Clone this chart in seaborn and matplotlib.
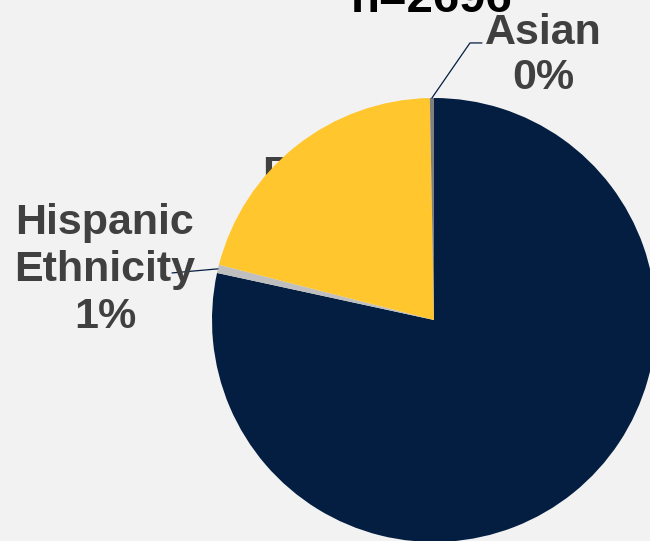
import numpy as np
import matplotlib
matplotlib.use("Agg")
import matplotlib.pyplot as plt
import seaborn as sns

# data
groups = ["White", "Hispanic Ethnicity", "Black", "Asian"]
shares = [78.4, 0.6, 20.7, 0.3]
colors = ["#031E41", "#BFBFBF", "#FFC62D", "#7F7F7F"]
sample_n = 2696

sns.set_style("white")
plt.rcParams["font.family"] = ["Liberation Sans", "DejaVu Sans"]

BG = "#F2F2F2"
LABEL = "#404040"

fig = plt.figure(figsize=(6.5, 5.41), dpi=100)
fig.patch.set_facecolor(BG)

# pie sits partly off the canvas: centre (434, 320) px, radius 222 px
W, H, cx, cy, r = 650, 541, 434, 320, 222
ax = fig.add_axes([(cx - r) / W, (H - cy - r) / H, 2 * r / W, 2 * r / H])
ax.set_facecolor(BG)

wedges, _ = ax.pie(shares, colors=colors, startangle=90, counterclock=False,
                   radius=1, wedgeprops={"linewidth": 0})
for w in wedges:
    w.set_zorder(3)
ax.set_xlim(-1, 1)
ax.set_ylim(-1, 1)
ax.set_aspect("equal")
ax.axis("off")


def edge_point(w):
    ang = np.deg2rad((w.theta1 + w.theta2) / 2)
    return np.cos(ang), np.sin(ang)


# Black label, mostly hidden behind its own slice
ax.text(-0.775, 0.745, f"Black\n{shares[2]:.0f}%", ha="left", va="top",
        fontsize=31, fontweight="bold", color=LABEL, zorder=1, clip_on=False)

# Asian label with elbow leader
x0, y0 = edge_point(wedges[3])
ax.plot([x0, 0.162, 0.216], [y0, 1.248, 1.248], color="#031E41", lw=0.9,
        clip_on=False, zorder=4)
ax.text(0.491, 1.192, f"{groups[3]}\n{shares[3]:.0f}%", ha="center", va="center",
        fontsize=31, fontweight="bold", color=LABEL, linespacing=1.15,
        clip_on=False, zorder=5)

# Hispanic label with straight leader
x0, y0 = edge_point(wedges[1])
ax.plot([x0, -1.18], [y0, 0.212], color="#031E41", lw=0.9, clip_on=False, zorder=4)
ax.text(-1.482, 0.225, "Hispanic\nEthnicity\n" + f"{shares[1]:.0f}%", ha="center",
        va="center", fontsize=31, fontweight="bold", color=LABEL, linespacing=1.22,
        clip_on=False, zorder=5)

fig.text(432 / W, 1 - 12 / H, f"n={sample_n}", ha="center", va="baseline",
         fontsize=34, fontweight="bold", color="black")

fig.savefig("out.png", dpi=100, facecolor=BG)
